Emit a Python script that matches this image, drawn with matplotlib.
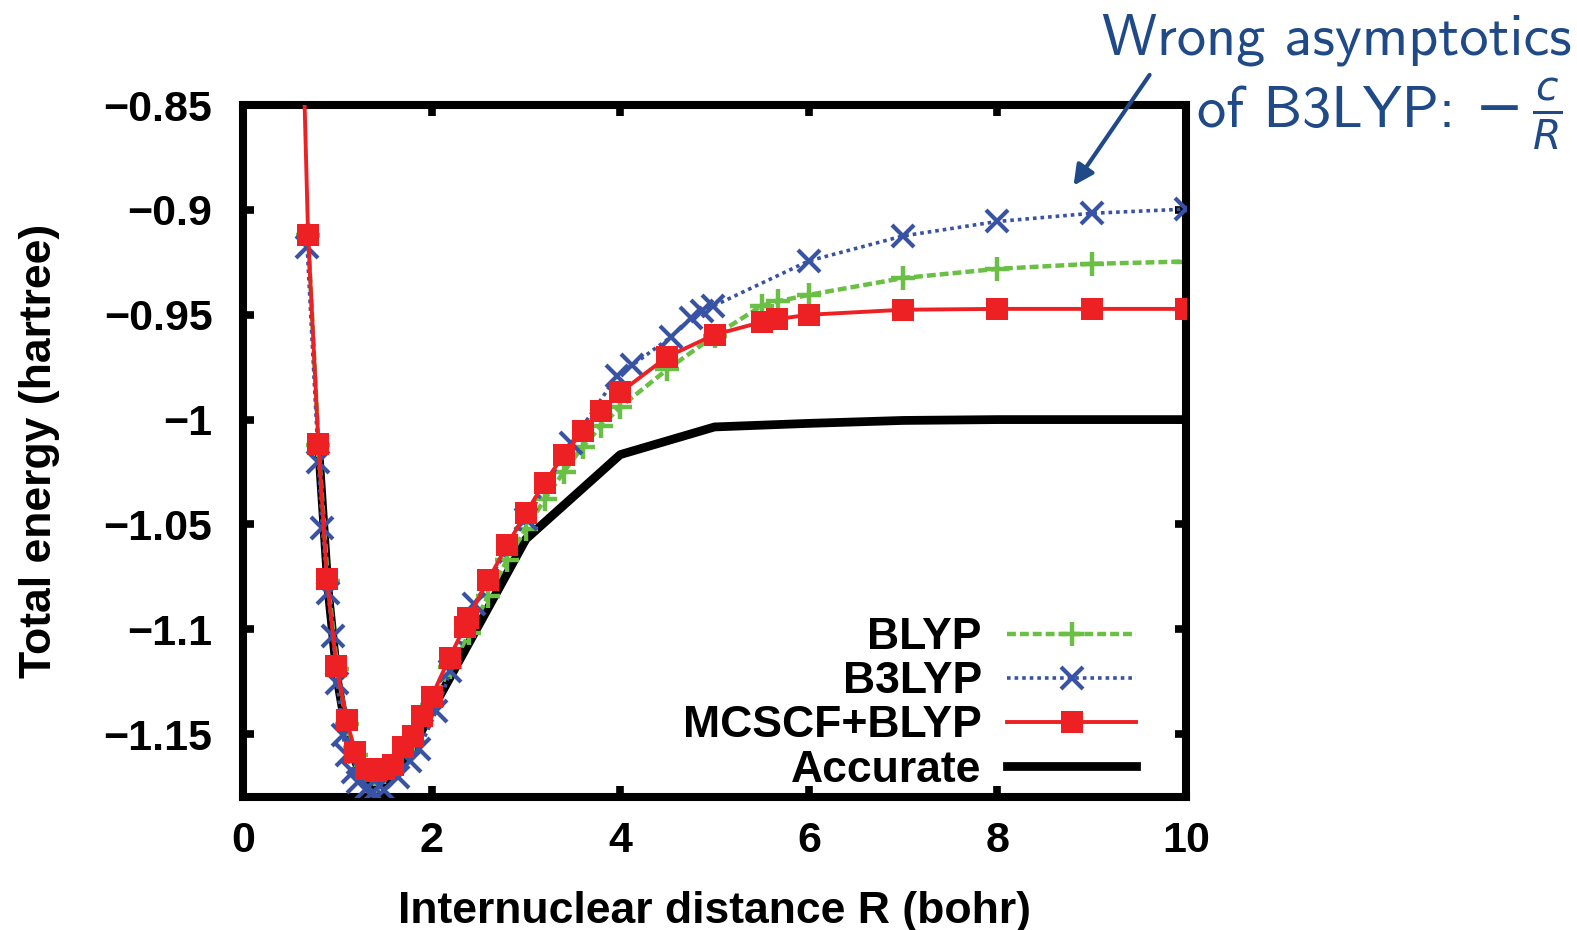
import numpy as np
import matplotlib.pyplot as plt

plt.rcParams['font.family'] = ['Liberation Sans', 'DejaVu Sans']
plt.rcParams['axes.unicode_minus'] = True

# MCSCF+BLYP
r_mc = [0.6, 0.69, 0.8, 0.89, 0.99, 1.1, 1.19, 1.3, 1.41, 1.5, 1.59, 1.7, 1.8, 1.9, 2.0,
        2.19, 2.35, 2.39, 2.6, 2.8, 3.0, 3.2, 3.4, 3.6, 3.8, 4.0, 4.5, 5.0, 5.5, 5.66,
        6, 7, 8, 9, 10]
e_mc = [-0.76, -0.912, -1.0116, -1.0759, -1.1175, -1.1435, -1.1587, -1.1665, -1.1675,
        -1.1668, -1.1645, -1.1563, -1.1508, -1.1412, -1.1322, -1.1135, -1.0988, -1.0944,
        -1.0765, -1.0600, -1.0444, -1.0300, -1.0169, -1.0056, -0.9960, -0.9870, -0.9700,
        -0.9595, -0.9535, -0.9521, -0.9500, -0.9476, -0.9472, -0.9472, -0.9472]

# BLYP
r_blyp = [0.69, 0.8, 0.9, 1.0, 1.1, 1.2, 1.3, 1.4, 1.5, 1.6, 1.8, 2.0, 2.2, 2.4, 2.6,
          2.8, 3.0, 3.2, 3.4, 3.6, 3.8, 4.0, 4.5, 5.0, 5.5, 5.67, 6, 7, 8, 9, 10]
e_blyp = [-0.912, -1.012, -1.077, -1.119, -1.145, -1.160, -1.167, -1.169, -1.168,
          -1.165, -1.154, -1.136, -1.118, -1.102, -1.084, -1.067, -1.052, -1.038,
          -1.025, -1.013, -1.003, -0.994, -0.976, -0.960, -0.9457, -0.9436, -0.9405,
          -0.9325, -0.9281, -0.9257, -0.9246]

# B3LYP
r_b3 = [0.68, 0.8, 0.84, 0.9, 0.95, 1.0, 1.06, 1.1, 1.17, 1.22, 1.3, 1.38, 1.5, 1.64,
        1.77, 1.87, 2.05, 2.2, 2.45, 3.0, 3.48, 3.97, 4.13, 4.54, 4.75, 4.87, 4.98,
        6, 7, 8, 9, 10]
e_b3 = [-0.9175, -1.020, -1.0516, -1.0825, -1.1032, -1.1254, -1.1505, -1.160, -1.168,
        -1.173, -1.1762, -1.1775, -1.1768, -1.1706, -1.1627, -1.157, -1.1389, -1.120,
        -1.088, -1.0476, -1.0111, -0.9790, -0.9740, -0.9605, -0.9516, -0.9484, -0.9460,
        -0.9243, -0.9124, -0.9055, -0.9016, -0.8996]

# Accurate
r_acc = [0.8, 0.9, 1.0, 1.1, 1.2, 1.3, 1.4, 1.5, 1.6, 1.8, 2.0, 2.5, 3.0, 4.0,
         5.0, 6.0, 7.0, 8.0, 10.0]
e_acc = [-1.012, -1.080, -1.124, -1.150, -1.164, -1.171, -1.1745, -1.173,
         -1.169, -1.157, -1.139, -1.098, -1.057, -1.0167, -1.0035, -1.0018, -1.0004,
         -1.0, -1.0]

green = '#6abf45'
blue = '#3853a4'
red = '#ed2024'
navy = '#1f4a87'
fs = 32

fig = plt.figure(figsize=(15.77, 9.30), dpi=100)
ax = fig.add_axes([0.1541, 0.143, 0.598, 0.744])

ax.plot(r_blyp, e_blyp, color=green, ls=(0, (2.0, 0.9)), lw=3.2, marker='+',
        ms=17, mew=3.2, label='BLYP', zorder=2)
ax.plot(r_b3, e_b3, color=blue, ls=(0, (1.0, 1.1)), lw=2.6, marker='x',
        ms=16, mew=3.0, label='B3LYP', zorder=3)
ax.plot(r_mc, e_mc, color=red, ls='-', lw=2.8, marker='s',
        ms=16.5, mew=0, label='MCSCF+BLYP', zorder=4)
ax.plot(r_acc, e_acc, color='black', ls='-', lw=6.3, label='Accurate', zorder=1)

ax.set_xlim(0, 10)
ax.set_ylim(-1.18, -0.85)
ax.set_xticks([0, 2, 4, 6, 8, 10])
ax.set_yticks([-0.85, -0.9, -0.95, -1.0, -1.05, -1.1, -1.15])
ax.set_yticklabels(['\u22120.85', '\u22120.9', '\u22120.95', '\u22121', '\u22121.05',
                    '\u22121.1', '\u22121.15'])
ax.tick_params(direction='in', length=8, width=5.5, labelsize=31,
               top=True, right=True)
ax.tick_params(axis='y', pad=22)
ax.tick_params(axis='x', pad=17)
for lab in ax.get_xticklabels() + ax.get_yticklabels():
    lab.set_fontweight('bold')
for s in ax.spines.values():
    s.set_linewidth(5.8)

ax.set_xlabel('Internuclear distance R (bohr)', fontsize=fs, fontweight='bold', labelpad=22)
ax.set_ylabel('Total energy (hartree)', fontsize=fs, fontweight='bold', labelpad=31)

ax.legend(loc='lower right', bbox_to_anchor=(0.985, -0.042), frameon=False,
          prop={'size': fs, 'weight': 'bold'},
          markerfirst=False, handlelength=2.9, handletextpad=0.58, labelspacing=0.07,
          borderpad=0.3)

W, H = 1577, 930
fig.text(1572 / W, 1 - 54 / H, 'Wrong asymptotics', ha='right', va='baseline',
         fontsize=42, color=navy, family='cmss10')
fig.text(1455 / W, 1 - 127 / H, 'of B3LYP:', ha='right', va='baseline',
         fontsize=42, color=navy, family='cmss10')
fig.text(1474 / W, 1 - 127 / H, '$-\\,\\frac{c}{R}$', ha='left', va='baseline',
         fontsize=42, color=navy, math_fontfamily='dejavusans')
ax.annotate('', xy=(8.79, -0.8895), xytext=(9.63, -0.8345), xycoords='data',
            annotation_clip=False,
            arrowprops=dict(arrowstyle='-|>', color=navy, lw=3, mutation_scale=30))

fig.savefig('out.png', dpi=100)
